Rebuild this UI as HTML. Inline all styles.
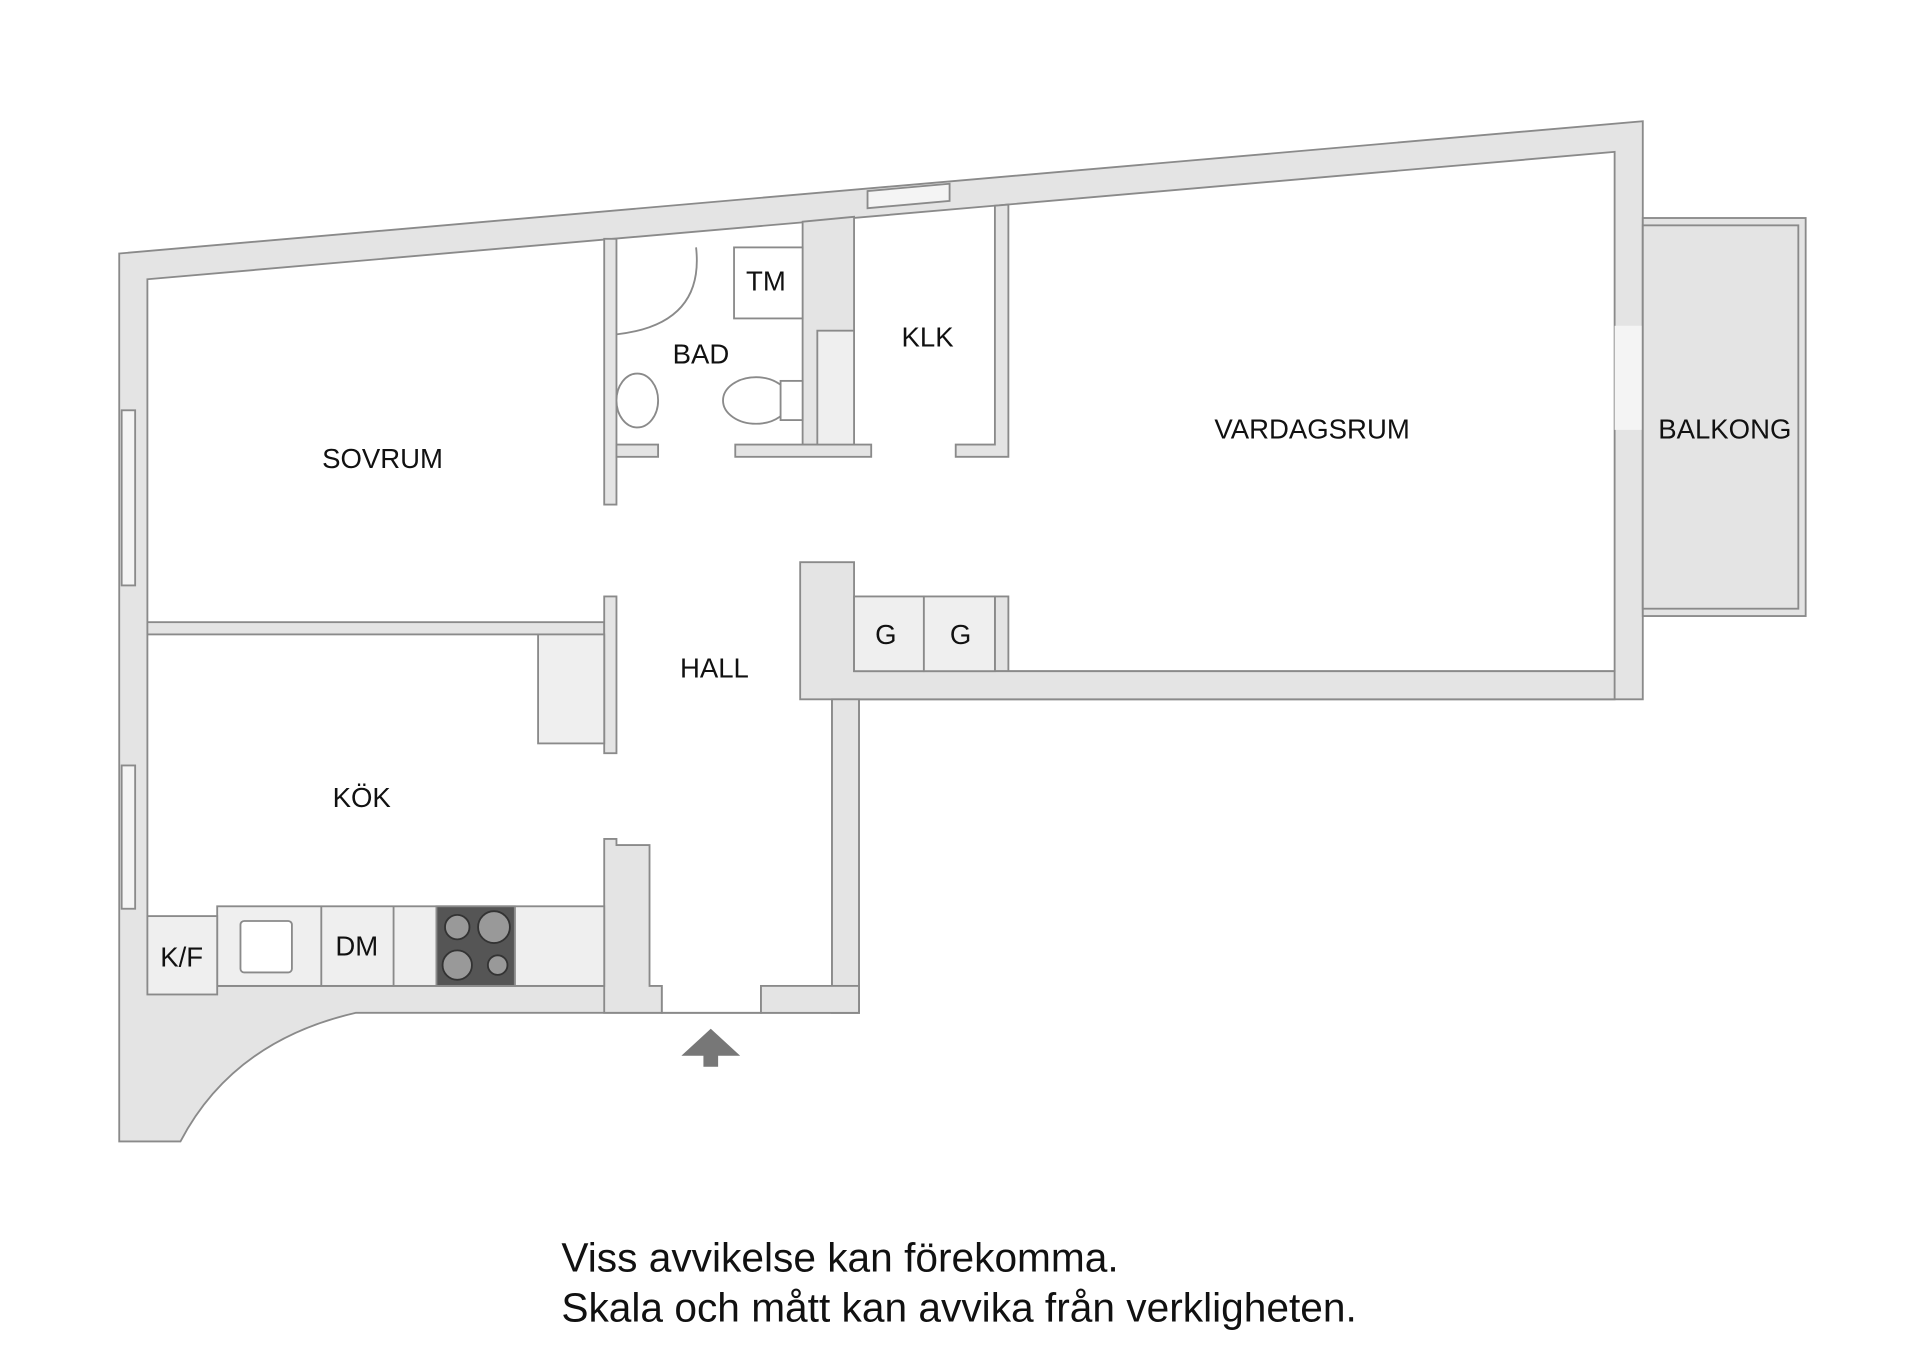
<!DOCTYPE html>
<html><head><meta charset="utf-8"><style>html,body{margin:0;padding:0;background:#fff}svg{display:block}</style></head><body>
<svg width="1920" height="1357" viewBox="0 0 1567 1108" xmlns="http://www.w3.org/2000/svg" font-family="Liberation Sans, Arial, sans-serif">
<g stroke="#8a8a8a" stroke-width="1.5">
<path d="M97,207 L1341,99 L1341,571 L701,571 L701,827 L621,827 L540,827 L290,827 Q190,850 147,932 L97,932 Z" fill="#e4e4e4"/>
<path d="M120,228 L1318,124 L1318,548 L679,548 L679,805 L621,805 L621,827 L540,827 L540,805 L120,805 Z" fill="#fff"/>
<rect x="120" y="508" width="373" height="10" fill="#e4e4e4"/>
<rect x="493" y="195" width="10" height="217" fill="#e4e4e4"/>
<rect x="493" y="487" width="10" height="128" fill="#e4e4e4"/>
<rect x="503" y="363" width="34" height="10" fill="#e4e4e4"/>
<rect x="600" y="363" width="111" height="10" fill="#e4e4e4"/>
<path d="M655,181 L697,177 L697,363 L655,363 Z" fill="#e4e4e4"/>
<rect x="667" y="270" width="30" height="93" fill="#efefef"/>
<path d="M812,168 L823,167 L823,373 L780,373 L780,363 L812,363 Z" fill="#e4e4e4"/>
<rect x="812" y="487" width="11" height="61" fill="#e4e4e4"/>
<path d="M653,459 L697,459 L697,548 L1318,548 L1318,571 L701,571 L679,571 L653,571 Z" fill="#e4e4e4"/>
<rect x="697" y="487" width="57" height="61" fill="#efefef"/>
<rect x="754" y="487" width="58" height="61" fill="#efefef"/>
<rect x="679" y="571" width="22" height="256" fill="#e4e4e4"/>
<rect x="621" y="805" width="80" height="22" fill="#e4e4e4"/>
<path d="M493,685 L503,685 L503,690 L530,690 L530,805 L540,805 L540,827 L493,827 Z" fill="#e4e4e4"/>
<rect x="439" y="518" width="54" height="89" fill="#efefef"/>
<rect x="177" y="740" width="316" height="65" fill="#efefef"/>
<line x1="262" y1="740" x2="262" y2="805"/><line x1="321" y1="740" x2="321" y2="805"/><line x1="420" y1="740" x2="420" y2="805"/>
<rect x="196" y="752" width="42" height="42" rx="3" fill="#fff"/>
<rect x="356" y="740" width="64" height="65" fill="#555"/>
<circle cx="373" cy="757" r="10" fill="#999" stroke="#333"/><circle cx="403" cy="757" r="13" fill="#999" stroke="#333"/>
<circle cx="373" cy="788" r="12" fill="#999" stroke="#333"/><circle cx="406" cy="788" r="8" fill="#999" stroke="#333"/>
<rect x="120" y="748" width="57" height="64" fill="#efefef"/>
<rect x="599" y="202" width="56" height="58" fill="#fff"/>
<path d="M568,202 Q575,265 503,273" fill="none"/>
<ellipse cx="520" cy="327" rx="17" ry="22" fill="#fff"/>
<ellipse cx="617" cy="327" rx="27" ry="19" fill="#fff"/>
<rect x="637" y="311" width="18" height="32" fill="#fff"/>
<rect x="99" y="335" width="11" height="143" fill="#f4f4f4"/>
<rect x="99" y="625" width="11" height="117" fill="#f4f4f4"/>
<path d="M708,156 L775,150 L775,164 L708,170 Z" fill="#f4f4f4"/>
<rect x="1318" y="266" width="23" height="85" fill="#f4f4f4" stroke="none"/>
<rect x="1341" y="178" width="133" height="325" fill="#e4e4e4"/>
<rect x="1341" y="184" width="127" height="313" fill="#e4e4e4"/>
</g>
<path d="M556,862 L580,840 L604,862 L586,862 L586,871 L574,871 L574,862 Z" fill="#777"/>
<g font-size="22.5" fill="#111" text-anchor="middle">
<text x="312" y="382">SOVRUM</text>
<text x="572" y="297">BAD</text>
<text x="625" y="237">TM</text>
<text x="757" y="283">KLK</text>
<text x="1071" y="358">VARDAGSRUM</text>
<text x="1408" y="358">BALKONG</text>
<text x="583" y="553">HALL</text>
<text x="723" y="526">G</text>
<text x="784" y="526">G</text>
<text x="295" y="659">KÖK</text>
<text x="291" y="780">DM</text>
<text x="148" y="789">K/F</text>
</g>
<g font-size="33.2" fill="#111">
<text x="458" y="1038">Viss avvikelse kan förekomma.</text>
<text x="458" y="1079">Skala och mått kan avvika från verkligheten.</text>
</g>
</svg>
</body></html>
